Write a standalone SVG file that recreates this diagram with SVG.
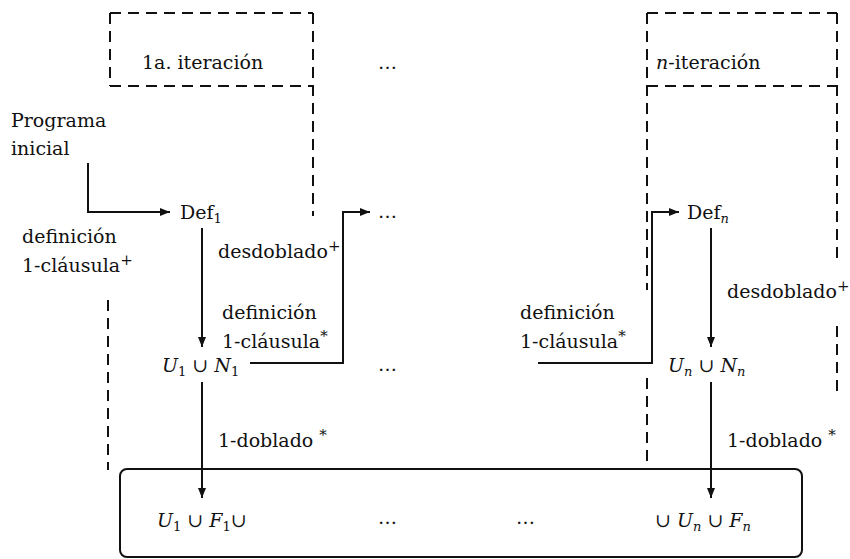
<svg xmlns="http://www.w3.org/2000/svg" width="850" height="559" viewBox="0 0 850 559">
  <style>
    text { font-family: "DejaVu Serif", "Liberation Serif", serif; font-size: 19px; fill: #111; }
    .m { font-style: italic; }
    .sub { font-size: 13px; }
    .sup { font-size: 15px; }
    .dots { letter-spacing: 2px; }
    .dash { fill: none; stroke: #111; stroke-width: 2; stroke-dasharray: 11 7; }
    .edge { fill: none; stroke: #111; stroke-width: 2; }
    .box { fill: none; stroke: #111; stroke-width: 2; }
  </style>
  <defs>
    <marker id="arrow" viewBox="0 0 10 8" refX="10" refY="4" markerWidth="10" markerHeight="8" markerUnits="userSpaceOnUse" orient="auto">
      <path d="M0,0 L10,4 L0,8 Z" fill="#111"/>
    </marker>
  </defs>

  <!-- iteration frames (dashed) -->
  <g id="frame-iter1">
    <path class="dash" d="M110,13 H313 M110,13 V86 M110,86 H313 M313,13 V216"/>
    <path class="dash" d="M108,300 V470"/>
    <text x="142" y="69">1a. iteración</text>
  </g>
  <g id="frame-itern">
    <path class="dash" d="M647,13 H837 M647,13 V290 M647,86 H837 M837,13 V264"/>
    <path class="dash" d="M647,378 V469"/>
    <path class="dash" d="M837,326 V392"/>
    <text x="656" y="69"><tspan class="m">n</tspan>-iteración</text>
  </g>

  <!-- result box -->
  <g id="node-result">
    <rect class="box" x="120" y="469" width="682" height="88" rx="7"/>
    <text x="157" y="527"><tspan class="m">U</tspan><tspan class="sub" dy="4">1</tspan><tspan dy="-4"> ∪ </tspan><tspan class="m">F</tspan><tspan class="sub" dy="4">1</tspan><tspan dy="-4">∪</tspan></text>
    <text class="dots" x="378" y="524">…</text>
    <text class="dots" x="516" y="524">…</text>
    <text x="655" y="527">∪ <tspan class="m">U</tspan><tspan class="m sub" dy="4">n</tspan><tspan dy="-4"> ∪ </tspan><tspan class="m">F</tspan><tspan class="m sub" dy="4">n</tspan></text>
  </g>

  <!-- nodes -->
  <g id="node-programa">
    <text x="11" y="127">Programa</text>
    <text x="11" y="155">inicial</text>
  </g>
  <g id="node-def1">
    <text x="180" y="219">Def<tspan class="sub" dy="4">1</tspan></text>
  </g>
  <g id="node-un1">
    <text x="162" y="372"><tspan class="m">U</tspan><tspan class="sub" dy="4">1</tspan><tspan dy="-4"> ∪ </tspan><tspan class="m">N</tspan><tspan class="sub" dy="4">1</tspan></text>
  </g>
  <g id="node-dots-top">
    <text class="dots" x="378" y="69">…</text>
  </g>
  <g id="node-dots-mid">
    <text class="dots" x="378" y="218">…</text>
  </g>
  <g id="node-dots-low">
    <text class="dots" x="378" y="371">…</text>
  </g>
  <g id="node-defn">
    <text x="687" y="219">Def<tspan class="m sub" dy="4">n</tspan></text>
  </g>
  <g id="node-unn">
    <text x="668" y="372"><tspan class="m">U</tspan><tspan class="m sub" dy="4">n</tspan><tspan dy="-4"> ∪ </tspan><tspan class="m">N</tspan><tspan class="m sub" dy="4">n</tspan></text>
  </g>

  <!-- connectors -->
  <g id="connectors">
    <path class="edge" marker-end="url(#arrow)" d="M88,163 V212 H170"/>
    <path class="edge" marker-end="url(#arrow)" d="M202,228 V347"/>
    <path class="edge" marker-end="url(#arrow)" d="M250,363 H343 V212 H370"/>
    <path class="edge" marker-end="url(#arrow)" d="M202,382 V498"/>
    <path class="edge" marker-end="url(#arrow)" d="M538,363 H652 V212 H679"/>
    <path class="edge" marker-end="url(#arrow)" d="M711,228 V347"/>
    <path class="edge" marker-end="url(#arrow)" d="M711,382 V498"/>
  </g>

  <!-- edge labels -->
  <g id="labels">
    <text x="22" y="243">definición</text>
    <text x="22" y="272">1-cláusula<tspan class="sup" dy="-7">+</tspan></text>
    <text x="218" y="258">desdoblado<tspan class="sup" dy="-7">+</tspan></text>
    <text x="222" y="319">definición</text>
    <text x="222" y="348">1-cláusula<tspan class="sup" dy="-7">*</tspan></text>
    <text x="218" y="447">1-doblado <tspan class="sup" dy="-7">*</tspan></text>
    <text x="520" y="319">definición</text>
    <text x="520" y="348">1-cláusula<tspan class="sup" dy="-7">*</tspan></text>
    <text x="727" y="298">desdoblado<tspan class="sup" dy="-7">+</tspan></text>
    <text x="727" y="447">1-doblado <tspan class="sup" dy="-7">*</tspan></text>
  </g>
</svg>
